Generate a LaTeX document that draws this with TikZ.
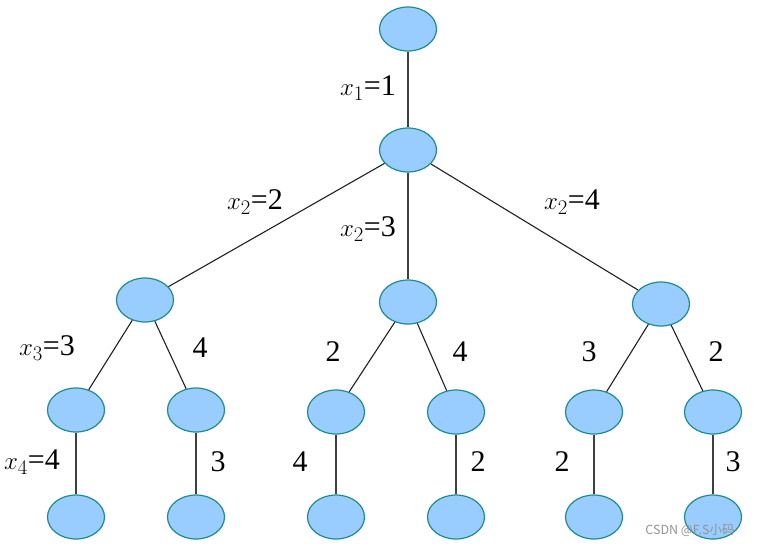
\documentclass[tikz,border=0pt]{standalone}
\usepackage{fontspec}
\setmainfont{Liberation Serif}
\newfontfamily\wmfont{Noto Sans CJK SC}
\usetikzlibrary{shapes.geometric}
\definecolor{nodefill}{HTML}{99CCFF}
\definecolor{nodeedge}{HTML}{1F8C8C}
\definecolor{edgecol}{HTML}{202020}
\definecolor{vedgecol}{HTML}{404040}
\begin{document}
\begin{tikzpicture}[x=1pt,y=-1pt,
  tn/.style={ellipse,draw=nodeedge,fill=nodefill,line width=1.2pt,minimum width=57pt,minimum height=44pt,inner sep=0pt},
  br/.style={draw=edgecol,line width=1.1pt},
  vbr/.style={draw=vedgecol,line width=1.8pt},
  lab/.style={font=\fontsize{30}{32}\selectfont,inner sep=0pt}]
\useasboundingbox (0,0) rectangle (758,547);
% nodes
\node[tn] (r) at (408,29) {};
\node[tn] (a) at (408,150) {};
\node[tn] (b1) at (145,300) {};
\node[tn] (b2) at (408,302) {};
\node[tn] (b3) at (661,304) {};
\node[tn] (c1) at (76,410) {};
\node[tn] (c2) at (196,410) {};
\node[tn] (c3) at (336,412) {};
\node[tn] (c4) at (456,412) {};
\node[tn] (c5) at (594,412) {};
\node[tn] (c6) at (713,412) {};
\node[tn] (d1) at (76,517) {};
\node[tn] (d2) at (196,517) {};
\node[tn] (d3) at (336,517) {};
\node[tn] (d4) at (456,517) {};
\node[tn] (d5) at (594,517) {};
\node[tn] (d6) at (713,517) {};
% edges
\draw[vbr] (r) -- (a);
\draw[br] (a) -- (b1);
\draw[vbr] (a) -- (b2);
\draw[br] (a) -- (b3);
\draw[br] (b1) -- (c1);
\draw[br] (b1) -- (c2);
\draw[br] (b2) -- (c3);
\draw[br] (b2) -- (c4);
\draw[br] (b3) -- (c5);
\draw[br] (b3) -- (c6);
\draw[vbr] (c1) -- (d1);
\draw[vbr] (c2) -- (d2);
\draw[vbr] (c3) -- (d3);
\draw[vbr] (c4) -- (d4);
\draw[vbr] (c5) -- (d5);
\draw[vbr] (c6) -- (d6);
% labels
\node[lab] (l1) at (368,88) {$x_1$=1};
\node[lab] (l2) at (255,202) {$x_2$=2};
\node[lab] (l3) at (368,229) {$x_2$=3};
\node[lab] (l4) at (572,202) {$x_2$=4};
\node[lab] (l5) at (47,348) {$x_3$=3};
\node[lab] (l6) at (200,348) {4};
\node[lab] (l7) at (333,352) {2};
\node[lab] (l8) at (460,352) {4};
\node[lab] (l9) at (589,352) {3};
\node[lab] (l10) at (716,352) {2};
\node[lab] (l11) at (32,462) {$x_4$=4};
\node[lab] (l12) at (218,462) {3};
\node[lab] (l13) at (300,462) {4};
\node[lab] (l14) at (478,462) {2};
\node[lab] (l15) at (562,462) {2};
\node[lab] (l16) at (733,462) {3};
\node[font=\wmfont\fontsize{12.5}{14}\selectfont,text=gray!85,inner sep=0pt] (wm) at (690,530) {CSDN @F.S小码};
\end{tikzpicture}
\end{document}
